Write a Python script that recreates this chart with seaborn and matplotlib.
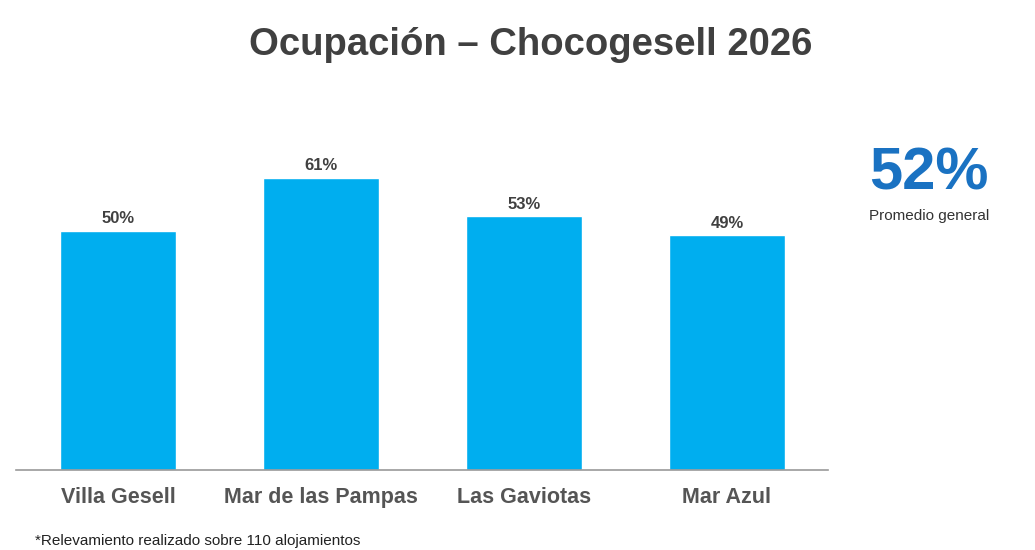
import pandas as pd
import seaborn as sns
import matplotlib.pyplot as plt

localidades = ["Villa Gesell", "Mar de las Pampas", "Las Gaviotas", "Mar Azul"]
ocupacion = [50, 61, 53, 49]
promedio = 52
titulo = "Ocupación – Chocogesell 2026"
nota = "*Relevamiento realizado sobre 110 alojamientos"

sns.set_theme(style="white")
plt.rcParams['font.family'] = ['Liberation Sans', 'DejaVu Sans']

df = pd.DataFrame({"Localidad": localidades, "Ocupacion": ocupacion})

fig = plt.figure(figsize=(10.35, 5.5), dpi=100)
ax = fig.add_axes([0.0159, 0.1455, 0.7845, 0.6727])

sns.barplot(data=df, x="Localidad", y="Ocupacion", color="#00AEEF",
            width=0.571, saturation=1, ax=ax)

for i, v in enumerate(ocupacion):
    ax.text(i, v + 1.0, f"{v}%", ha="center", va="bottom",
            fontsize=12, fontweight="bold", color="#404040")

ax.set_xlim(-0.5, 3.5)
ax.set_ylim(0, 77.3)
ax.set_xlabel("")
ax.set_ylabel("")
ax.set_yticks([])
ax.tick_params(axis="x", length=0, pad=12)
for lbl in ax.get_xticklabels():
    lbl.set_fontsize(15.5)
    lbl.set_fontweight("bold")
    lbl.set_color("#555555")
for s in ["top", "right", "left"]:
    ax.spines[s].set_visible(False)
ax.spines["bottom"].set_color("#9a9a9a")
ax.spines["bottom"].set_linewidth(1.2)

fig.text(0.513, 0.918, titulo, ha="center", va="center",
         fontsize=27.5, fontweight="bold", color="#404040")
fig.text(0.897, 0.684, f"{promedio}%", ha="center", va="center",
         fontsize=43, fontweight="bold", color="#1A72C2")
fig.text(0.898, 0.607, "Promedio general", ha="center", va="center",
         fontsize=11, color="#333333")
fig.text(0.034, 0.003, nota, ha="left", va="bottom",
         fontsize=11, color="#222222")

fig.savefig("out.png", dpi=100)
